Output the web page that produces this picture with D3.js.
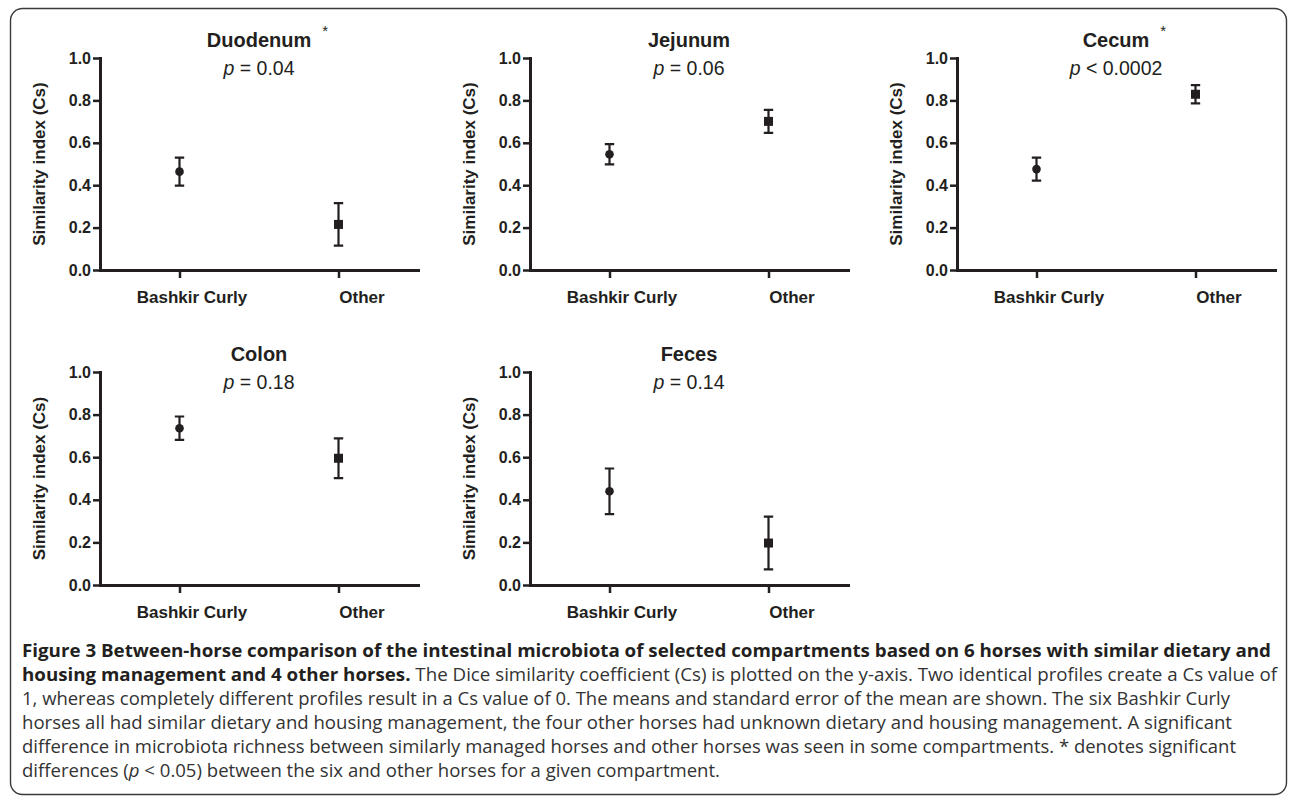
<!DOCTYPE html>
<html>
<head>
<meta charset="utf-8">
<script src="https://cdn.jsdelivr.net/npm/d3@7"></script>
<style>
  body { margin: 0; background: #fff; }
  svg { display: block; }
</style>
</head>
<body>
<div id="chart"></div>
<script>
// values
const compartments = ['Duodenum', 'Jejunum', 'Cecum', 'Colon', 'Feces'];
const pValues = ['= 0.04', '= 0.06', '< 0.0002', '= 0.18', '= 0.14'];
const significant = [true, false, true, false, false];
const groups = ['Bashkir Curly', 'Other'];
const bashkirMean = [0.464, 0.546, 0.476, 0.736, 0.440];
const bashkirSem = [0.066, 0.048, 0.054, 0.055, 0.107];
const otherMean = [0.215, 0.701, 0.829, 0.595, 0.197];
const otherSem = [0.100, 0.054, 0.043, 0.093, 0.124];
const yTicks = [0, 0.2, 0.4, 0.6, 0.8, 1.0];

const captionLines = [
  [{t: 'Figure 3 Between-horse comparison of the intestinal microbiota of selected compartments based on 6 horses with similar dietary and', b: true}],
  [{t: 'housing management and 4 other horses.', b: true}, {t: ' The Dice similarity coefficient (Cs) is plotted on the y-axis. Two identical profiles create a Cs value of'}],
  [{t: '1, whereas completely different profiles result in a Cs value of 0. The means and standard error of the mean are shown. The six Bashkir Curly'}],
  [{t: 'horses all had similar dietary and housing management, the four other horses had unknown dietary and housing management. A significant'}],
  [{t: 'difference in microbiota richness between similarly managed horses and other horses was seen in some compartments. * denotes significant'}],
  [{t: 'differences ('}, {t: 'p', i: true}, {t: ' < 0.05) between the six and other horses for a given compartment.'}]
];

const ink = '#231f20';
const W = 1290, H = 797;

// panel boxes (plot area) : left, right, top, bottom
const boxes = [
  {l: 100, r: 418, t: 58, b: 270},
  {l: 530, r: 848, t: 58, b: 270},
  {l: 957, r: 1275, t: 58, b: 270},
  {l: 100, r: 418, t: 372, b: 585},
  {l: 530, r: 848, t: 372, b: 585}
];
const labelShift = [12, 23];

const svg = d3.select('#chart').append('svg')
  .attr('width', W).attr('height', H);

svg.append('rect')
  .attr('x', 10.5).attr('y', 8.5)
  .attr('width', 1276).attr('height', 786)
  .attr('rx', 12)
  .attr('fill', 'none')
  .attr('stroke', '#3a3a3a')
  .attr('stroke-width', 1.4);

compartments.forEach((name, i) => {
  const box = boxes[i];
  const g = svg.append('g');

  const x = d3.scalePoint().domain(groups).range([box.l, box.r]).padding(0.5);
  const y = d3.scaleLinear().domain([0, 1]).range([box.b, box.t]);

  // y axis
  const ya = g.append('g')
    .attr('transform', `translate(${box.l},0)`)
    .call(d3.axisLeft(y).tickValues(yTicks).tickFormat(d3.format('.1f')).tickSize(7).tickSizeOuter(0).tickPadding(2));
  ya.select('.domain').attr('stroke', ink).attr('stroke-width', 3).attr('stroke-linecap', 'square');
  ya.selectAll('.tick line').attr('stroke', ink).attr('stroke-width', 2.5);
  ya.selectAll('.tick text')
    .attr('fill', ink)
    .style('font', 'bold 16px "Liberation Sans", Arial, sans-serif');

  // x axis
  const xa = g.append('g')
    .attr('transform', `translate(0,${box.b})`)
    .call(d3.axisBottom(x).tickSize(8).tickSizeOuter(0).tickPadding(13));
  xa.select('.domain').attr('stroke', ink).attr('stroke-width', 3).attr('stroke-linecap', 'square');
  xa.selectAll('.tick line').attr('stroke', ink).attr('stroke-width', 2.5);
  xa.selectAll('.tick text')
    .attr('fill', ink)
    .attr('dx', (d, k) => labelShift[k])
    .style('font', 'bold 17px "Liberation Sans", Arial, sans-serif');

  // y label
  g.append('text')
    .attr('transform', `translate(${box.l - 55},${(box.t + box.b) / 2}) rotate(-90)`)
    .attr('text-anchor', 'middle')
    .attr('fill', ink)
    .style('font', 'bold 17px "Liberation Sans", Arial, sans-serif')
    .text('Similarity index (Cs)');

  // title
  const cx = (box.l + box.r) / 2;
  const title = g.append('text')
    .attr('x', cx).attr('y', box.t - 11)
    .attr('text-anchor', 'middle')
    .attr('fill', ink)
    .style('font', 'bold 20px "Liberation Sans", Arial, sans-serif')
    .text(name);
  if (significant[i]) {
    const tw = title.node().getComputedTextLength();
    g.append('text')
      .attr('x', cx + tw / 2 + 11).attr('y', box.t - 22)
      .attr('fill', ink)
      .style('font', '15px "Liberation Sans", Arial, sans-serif')
      .text('*');
  }
  const pt = g.append('text')
    .attr('x', cx).attr('y', box.t + 17)
    .attr('text-anchor', 'middle')
    .attr('fill', ink)
    .style('font', '19.5px "Liberation Sans", Arial, sans-serif');
  pt.append('tspan').style('font-style', 'italic').text('p');
  pt.append('tspan').text(' ' + pValues[i]);

  // points with SEM bars
  const pts = [
    {grp: groups[0], m: bashkirMean[i], s: bashkirSem[i], shape: 'circle'},
    {grp: groups[1], m: otherMean[i], s: otherSem[i], shape: 'square'}
  ];
  const cap = 4.7;
  const marks = g.selectAll('.pt').data(pts).enter().append('g').attr('class', 'pt');
  marks.append('path')
    .attr('d', d => {
      const px = x(d.grp), y1 = y(d.m + d.s), y0 = y(d.m - d.s);
      return `M${px},${y1}V${y0}M${px - cap},${y1}H${px + cap}M${px - cap},${y0}H${px + cap}`;
    })
    .attr('fill', 'none')
    .attr('stroke', ink)
    .attr('stroke-width', 2.2);
  marks.filter(d => d.shape === 'circle').append('circle')
    .attr('cx', d => x(d.grp)).attr('cy', d => y(d.m))
    .attr('r', 4.3)
    .attr('fill', ink);
  marks.filter(d => d.shape === 'square').append('rect')
    .attr('x', d => x(d.grp) - 4.5).attr('y', d => y(d.m) - 4.5)
    .attr('width', 9).attr('height', 9)
    .attr('fill', ink);
});

// caption: line ends fitted to where the printed lines stop
const capLeft = 22;
const capEnds = [1271, 1277, 1230, 1232, 1236, 720];
const capG = svg.append('g');
captionLines.forEach((line, k) => {
  const t = capG.append('text')
    .attr('x', capLeft).attr('y', 657 + k * 24)
    .attr('fill', '#333')
    .style('font', '18px "Open Sans", Lato, sans-serif');
  line.forEach(seg => {
    const s = t.append('tspan').text(seg.t);
    if (seg.b) s.style('font-weight', 'bold').attr('fill', ink);
    if (seg.i) s.style('font-style', 'italic');
  });
  t.attr('textLength', capEnds[k] - capLeft).attr('lengthAdjust', 'spacingAndGlyphs');
});
</script>
</body>
</html>
